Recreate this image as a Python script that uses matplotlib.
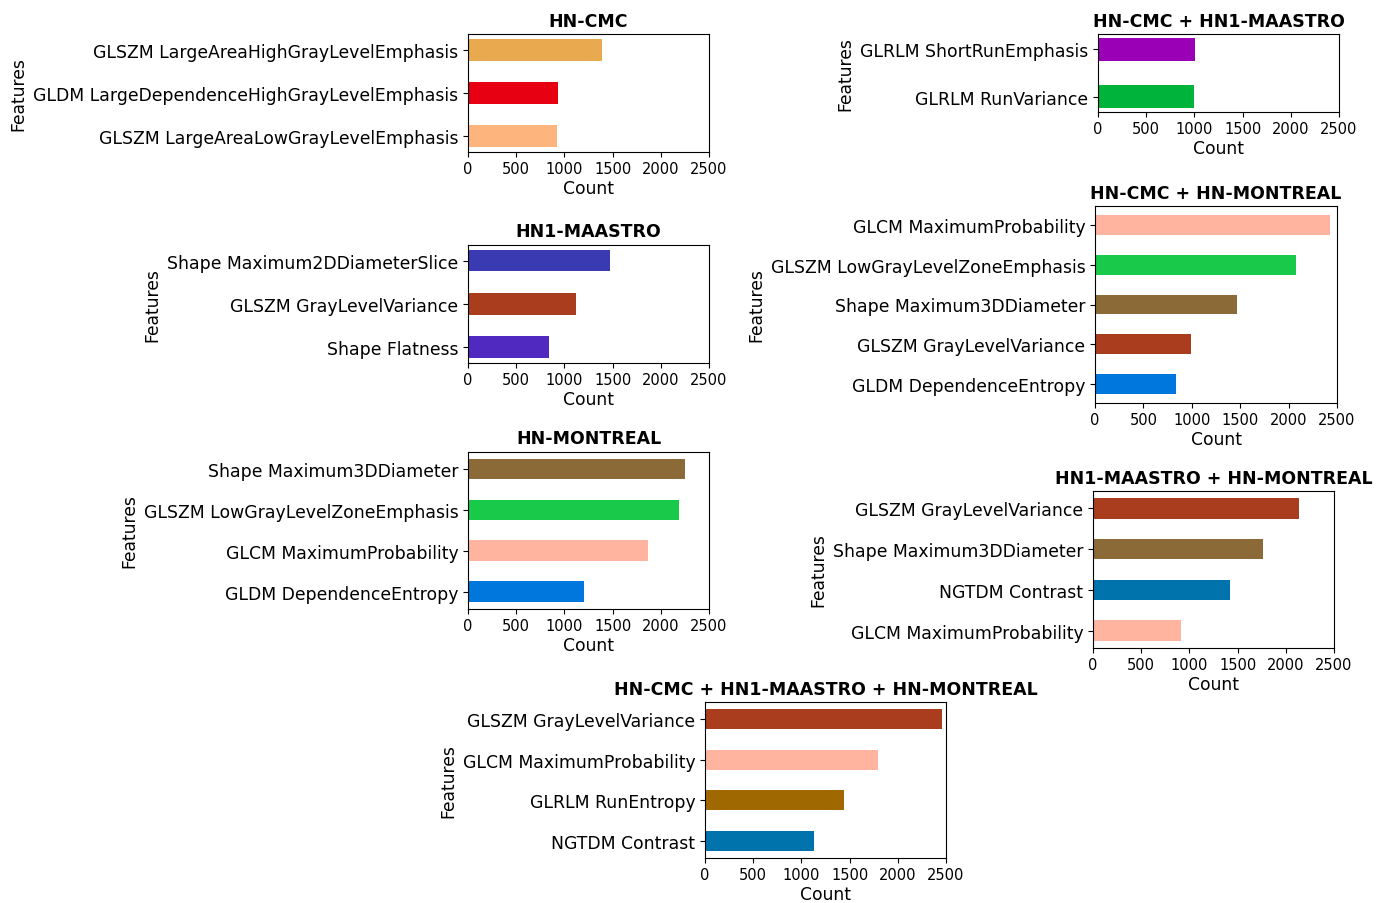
import matplotlib
matplotlib.use("Agg")
import matplotlib.pyplot as plt

W, H = 1386, 904

# Feature counts per cohort combination
hn_cmc_features = ["GLSZM LargeAreaHighGrayLevelEmphasis",
                   "GLDM LargeDependenceHighGrayLevelEmphasis",
                   "GLSZM LargeAreaLowGrayLevelEmphasis"]
hn_cmc_counts = [1393, 937, 920]
hn_cmc_colors = ["#E8A94F", "#E60012", "#FDB57D"]

cmc_maastro_features = ["GLRLM ShortRunEmphasis", "GLRLM RunVariance"]
cmc_maastro_counts = [1005, 997]
cmc_maastro_colors = ["#9A00B6", "#00B33A"]

maastro_features = ["Shape Maximum2DDiameterSlice",
                    "GLSZM GrayLevelVariance",
                    "Shape Flatness"]
maastro_counts = [1473, 1120, 840]
maastro_colors = ["#3A3AB2", "#A93D1E", "#5029C0"]

cmc_montreal_features = ["GLCM MaximumProbability",
                         "GLSZM LowGrayLevelZoneEmphasis",
                         "Shape Maximum3DDiameter",
                         "GLSZM GrayLevelVariance",
                         "GLDM DependenceEntropy"]
cmc_montreal_counts = [2428, 2076, 1465, 991, 839]
cmc_montreal_colors = ["#FFB4A0", "#18C94A", "#8C6A38", "#A93D1E", "#0077DD"]

montreal_features = ["Shape Maximum3DDiameter",
                     "GLSZM LowGrayLevelZoneEmphasis",
                     "GLCM MaximumProbability",
                     "GLDM DependenceEntropy"]
montreal_counts = [2255, 2186, 1865, 1205]
montreal_colors = ["#8C6A38", "#18C94A", "#FFB4A0", "#0077DD"]

maastro_montreal_features = ["GLSZM GrayLevelVariance",
                             "Shape Maximum3DDiameter",
                             "NGTDM Contrast",
                             "GLCM MaximumProbability"]
maastro_montreal_counts = [2138, 1768, 1423, 915]
maastro_montreal_colors = ["#A93D1E", "#8C6A38", "#0072AC", "#FFB4A0"]

all_features = ["GLSZM GrayLevelVariance",
                "GLCM MaximumProbability",
                "GLRLM RunEntropy",
                "NGTDM Contrast"]
all_counts = [2462, 1796, 1444, 1133]
all_colors = ["#A93D1E", "#FFB4A0", "#A06800", "#0072AC"]

# (title, labels, counts, colours, axes box in pixels: left, right, top, bottom)
panels = [
    ("HN-CMC", hn_cmc_features, hn_cmc_counts, hn_cmc_colors, (468, 709, 35, 153)),
    ("HN-CMC + HN1-MAASTRO", cmc_maastro_features, cmc_maastro_counts,
     cmc_maastro_colors, (1098, 1339, 35, 113)),
    ("HN1-MAASTRO", maastro_features, maastro_counts, maastro_colors,
     (468, 709, 245.5, 364)),
    ("HN-CMC + HN-MONTREAL", cmc_montreal_features, cmc_montreal_counts,
     cmc_montreal_colors, (1095, 1337, 207, 404)),
    ("HN-MONTREAL", montreal_features, montreal_counts, montreal_colors,
     (468, 709, 452.5, 610)),
    ("HN1-MAASTRO + HN-MONTREAL", maastro_montreal_features,
     maastro_montreal_counts, maastro_montreal_colors, (1093, 1334, 492, 649)),
    ("HN-CMC + HN1-MAASTRO + HN-MONTREAL", all_features, all_counts,
     all_colors, (705, 946, 703, 859)),
]

fig = plt.figure(figsize=(W / 100, H / 100), dpi=100)

for title, feats, counts, colors, (x0, x1, y0, y1) in panels:
    ax = fig.add_axes([x0 / W, 1 - y1 / H, (x1 - x0) / W, (y1 - y0) / H])
    pos = list(range(len(feats)))
    ax.barh(pos, counts, height=0.5, color=colors)
    ax.set_yticks(pos)
    ax.set_yticklabels(feats, fontsize=12.4)
    ax.invert_yaxis()
    ax.set_xlim(0, 2500)
    ax.set_xticks([0, 500, 1000, 1500, 2000, 2500])
    ax.tick_params(axis="x", labelsize=10.5, pad=3)
    ax.set_xlabel("Count", fontsize=12.3, labelpad=2)
    ax.set_ylabel("Features", fontsize=12.3)
    ax.set_title(title, fontsize=12.5, fontweight="bold")

fig.savefig("out.png", dpi=100)
